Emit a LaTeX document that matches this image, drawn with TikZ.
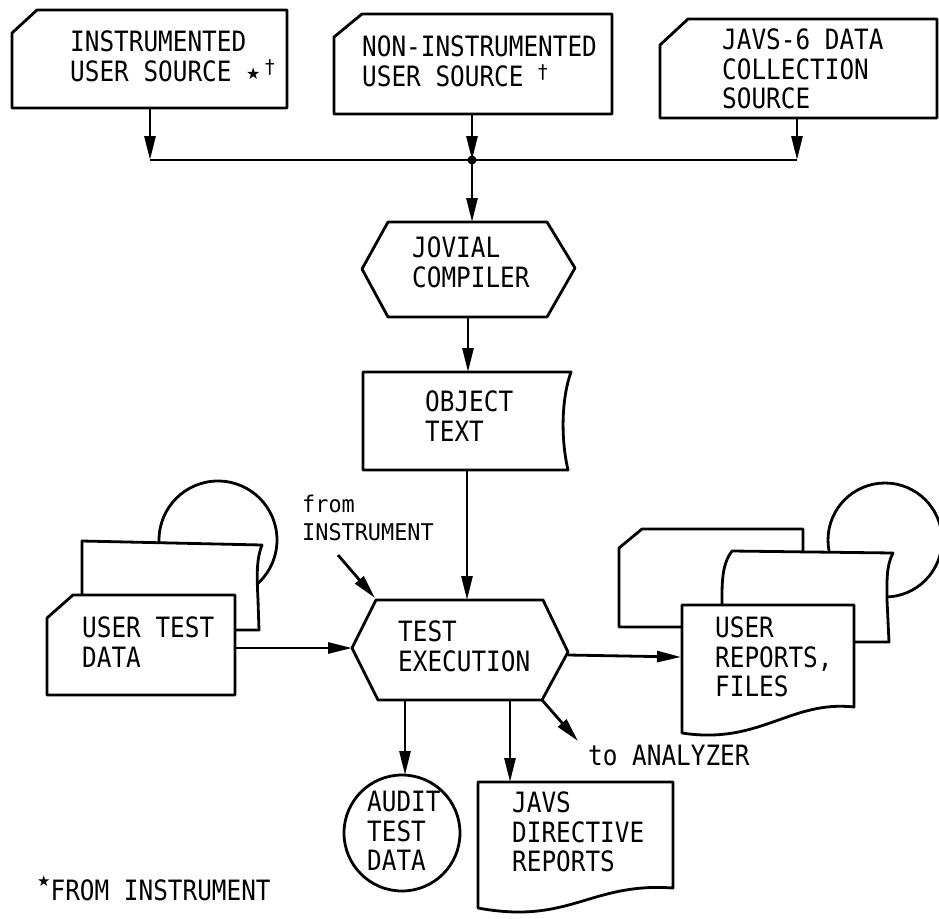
\documentclass[tikz,border=0pt]{standalone}
\usepackage{fontspec}
\newfontfamily\tw[FakeStretch=0.87]{DejaVu Sans Mono}
\newfontfamily\twn[FakeStretch=0.95]{DejaVu Sans Mono}
\newfontfamily\symf{DejaVu Sans}
\usetikzlibrary{arrows.meta}
\newcommand{\mystar}{{\symf\fontsize{16}{16}\selectfont\raisebox{2pt}{★}}}
\newcommand{\mydag}{{\symf\fontsize{19}{19}\selectfont\raisebox{8pt}{†}}}
\begin{document}
\begin{tikzpicture}[x=1pt,y=-1pt,
  shp/.style={draw=black, line width=2.8pt, fill=white, line join=round},
  lbl/.style={font=\tw\fontsize{28}{29.5}\selectfont, anchor=north west, inner sep=0pt, align=left, text=black},
  lblsm/.style={font=\twn\fontsize{23}{28}\selectfont, anchor=north west, inner sep=0pt, align=left, text=black},
  wire/.style={line width=2.8pt},
  conn/.style={line width=2.8pt, -{Triangle[length=24pt,width=11pt]}},
]
\useasboundingbox[fill=white] (0,0) rectangle (939,918);

% ---------- top source cards ----------
\draw[shp] (12,33) -- (37,10) -- (287,10) -- (287,108) -- (12,108) -- cycle;
\node[lbl] (src1) at (70,31) {INSTRUMENTED\\USER SOURCE \mystar\,\mydag};

\draw[shp] (334,37) -- (362,14) -- (612,14) -- (612,114) -- (334,114) -- cycle;
\node[lbl] (src2) at (362,36) {NON-INSTRUMENTED\\USER SOURCE \mydag};

\draw[shp] (660,45) -- (688,19) -- (937,19) -- (937,118) -- (660,118) -- cycle;
\node[lbl] (src3) at (722,29) {JAVS-6 DATA\\COLLECTION\\SOURCE};

% ---------- bus ----------
\coordinate (b1s) at (150,108);
\coordinate (bus1) at (150,160);
\coordinate (b2s) at (472,114);
\coordinate (jn) at (472,160);
\coordinate (b3s) at (797,118);
\coordinate (bus3) at (797,160);
\draw[wire] (bus1) -- (bus3);
\draw[conn] (b1s) -- (bus1);
\draw[conn] (b2s) -- (jn);
\draw[conn] (b3s) -- (bus3);
\fill (jn) circle (4.5);

% ---------- JOVIAL compiler ----------
\draw[shp] (388,222) -- (547,222) -- (575,268) -- (547,317) -- (388,317) -- (362,269) -- cycle;
\node[lbl] (jov) at (412,237) {JOVIAL\\COMPILER};
\coordinate (jovn) at (472,222);
\coordinate (jovs) at (468,317);
\draw[conn] (jn) -- (jovn);

% ---------- object text ----------
\draw[shp] (363,372) -- (571,372) .. controls (561,400) and (561,440) .. (568,470) -- (363,470) -- cycle;
\node[lbl] (obj) at (425,391) {OBJECT\\TEXT};
\coordinate (objn) at (468,372);
\coordinate (objs) at (467,470);
\draw[conn] (jovs) -- (objn);

% ---------- user test data stack ----------
\draw[shp] (218,540) circle (59);
\draw[shp] (82,541) -- (262,545) .. controls (256,560) and (257,578) .. (258,600) -- (259,630) -- (82,630) -- cycle;
\draw[shp] (47,618) -- (73,595) -- (235,595) -- (235,695) -- (47,695) -- cycle;
\node[lbl] (utd) at (82,617) {USER TEST\\DATA};
\coordinate (utde) at (235,648);

% ---------- test execution ----------
\draw[shp] (376,600) -- (543,600) -- (568,652) -- (542,700) -- (378,700) -- (352,648) -- cycle;
\node[lbl] (tex) at (398,621) {TEST\\EXECUTION};
\coordinate (texn) at (467,600);
\coordinate (texw) at (352,648);
\coordinate (texe) at (568,655);
\coordinate (texnw) at (375,598);
\coordinate (texs1) at (405,700);
\coordinate (texs2) at (510,700);
\coordinate (texse) at (542,700);
\draw[conn] (objs) -- (texn);
\draw[conn] (utde) -- (texw);

% from INSTRUMENT
\node[lblsm] (fromi) at (302,495) {from\\INSTRUMENT};
\coordinate (fis) at (338,555);
\draw[conn] (fis) -- (texnw);

% ---------- user reports stack ----------
\draw[shp] (885,540) circle (57);
\draw[shp] (619,548) -- (642,529) -- (803,529) -- (803,627) -- (619,627) -- cycle;
\draw[shp] (732,551) -- (893,553) .. controls (886,566) and (887,582) .. (887,600) -- (889,642) -- (722,642) -- (722,595) .. controls (722,572) and (725,560) .. (732,551) -- cycle;
\draw[shp] (682,605) -- (854,605) -- (854,707) .. controls (790,700) and (760,745) .. (682,733) -- cycle;
\node[lbl] (urf) at (715,617) {USER\\REPORTS,\\FILES};
\coordinate (urfw) at (681,657);
\draw[conn] (texe) -- (urfw);

% ---------- outputs ----------
\draw[shp] (402,833) circle (58);
\node[lbl] (aud) at (367,791) {AUDIT\\TEST\\DATA};
\coordinate (audn) at (405,775);
\draw[conn] (texs1) -- (audn);

\draw[shp] (478,782) -- (673,782) -- (673,888) .. controls (590,882) and (570,925) .. (478,908) -- cycle;
\node[lbl] (jdr) at (512,792) {JAVS\\DIRECTIVE\\REPORTS};
\coordinate (jdrn) at (510,782);
\draw[conn] (texs2) -- (jdrn);

\node[font=\tw\fontsize{28}{29.5}\selectfont, anchor=base west, inner sep=0pt] (toan) at (588,765) {to ANALYZER};
\coordinate (toa) at (578,741);
\draw[conn] (texse) -- (toa);

% ---------- footnote ----------
\node[font=\tw\fontsize{28}{29.5}\selectfont, anchor=base west, inner sep=0pt] (fn) at (37,900) {\raisebox{14pt}{\symf\fontsize{15}{15}\selectfont ★}FROM INSTRUMENT};
\end{tikzpicture}
\end{document}
